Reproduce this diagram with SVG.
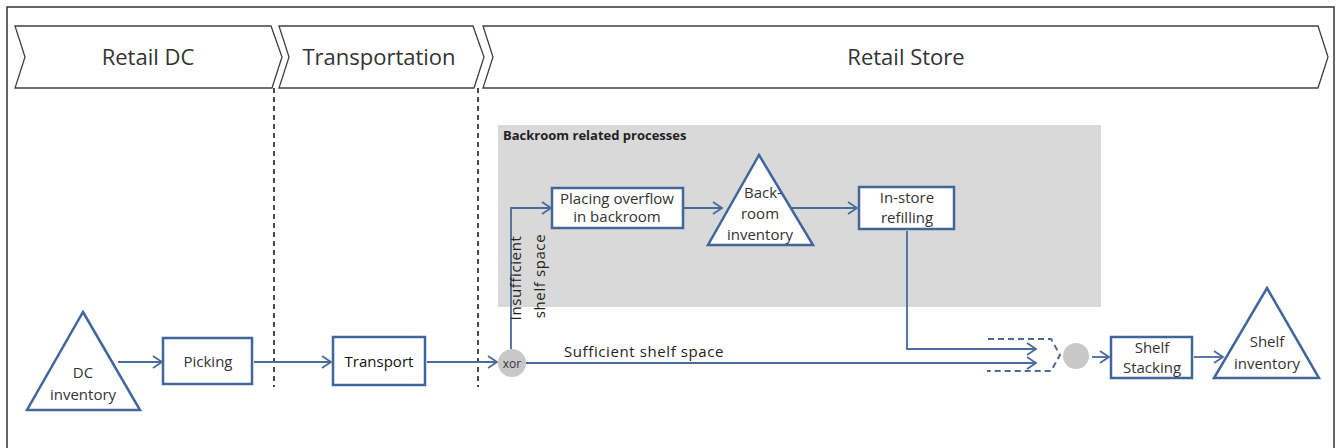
<svg xmlns="http://www.w3.org/2000/svg" width="1340" height="448" viewBox="0 0 1340 448">
<defs>
<marker id="arr" markerUnits="userSpaceOnUse" markerWidth="14" markerHeight="14" refX="11" refY="7" orient="auto">
<path d="M2,1 L11,7 L2,13" fill="none" stroke="#4a6a9b" stroke-width="1.8"/>
</marker>
<style>
.chev{fill:#fff;stroke:#404040;stroke-width:1.3}
.phase{font-family:"Open Sans","Liberation Sans",sans-serif;font-size:22px;fill:#333;text-anchor:middle}
.box{fill:#fff;stroke:#41669b;stroke-width:2.5}
.tri{fill:#fff;stroke:#41669b;stroke-width:2.5;stroke-linejoin:miter}
.lbl{font-family:"Open Sans","Liberation Sans",sans-serif;font-size:15px;fill:#333;text-anchor:middle}
.con{fill:none;stroke:#4a6a9b;stroke-width:1.8}
.sep{stroke:#000;stroke-width:1.4;stroke-dasharray:5,4}
.gate{fill:#c8c8c8}
.cl{font-family:"Open Sans","Liberation Sans",sans-serif;font-size:15px;fill:#222;letter-spacing:0.6px}
</style>
</defs>
<rect x="7" y="7" width="1327" height="445" fill="#fff" stroke="#333" stroke-width="1.5"/>

<g id="phase-retail-dc">
<path class="chev" d="M15,26 L271,26 L282,57 L272,88 L15,88 L25,57 Z"/>
<text class="phase" x="148" y="65">Retail DC</text>
</g>
<g id="phase-transportation">
<path class="chev" d="M279,26 L473,26 L484,57 L474,88 L279,88 L289,57 Z"/>
<text class="phase" x="379" y="65">Transportation</text>
</g>
<g id="phase-retail-store">
<path class="chev" d="M483,26 L1318,26 L1328,57 L1318,88 L483,88 L493,57 Z"/>
<text class="phase" x="906" y="65">Retail Store</text>
</g>

<g id="separators">
<line class="sep" x1="274" y1="88" x2="274" y2="387"/>
<line class="sep" x1="478" y1="88" x2="478" y2="387"/>
</g>

<g id="backroom-area">
<rect x="498" y="125" width="603" height="182" fill="#d9d9d9"/>
<text x="503" y="140" font-family="Open Sans, Liberation Sans, sans-serif" font-size="13" font-weight="bold" fill="#222">Backroom related processes</text>
</g>

<g id="connectors">
<line class="con" x1="118" y1="362" x2="162" y2="362" marker-end="url(#arr)"/>
<line class="con" x1="254" y1="362" x2="331" y2="362" marker-end="url(#arr)"/>
<line class="con" x1="427" y1="362" x2="497" y2="362" marker-end="url(#arr)"/>
<polyline class="con" points="511,349 511,208 551,208" marker-end="url(#arr)"/>
<line class="con" x1="684" y1="208" x2="722" y2="208" marker-end="url(#arr)"/>
<line class="con" x1="791" y1="208" x2="857" y2="208" marker-end="url(#arr)"/>
<polyline class="con" points="907,231 907,349 1036,349" marker-end="url(#arr)"/>
<line class="con" x1="526" y1="363" x2="1036" y2="363" marker-end="url(#arr)"/>
<path d="M988,339 L1051,339 L1060,355 L1051,371 L987,371" fill="none" stroke="#4a6a9b" stroke-width="2" stroke-dasharray="6,4"/>
<line class="con" x1="1092" y1="357" x2="1109" y2="357" marker-end="url(#arr)"/>
<line class="con" x1="1194" y1="357" x2="1223" y2="357" marker-end="url(#arr)"/>
<text class="cl" x="564" y="357">Sufficient shelf space</text>
<text class="cl" transform="translate(521,278) rotate(-90)" text-anchor="middle">Insufficient</text>
<text class="cl" transform="translate(545,276) rotate(-90)" text-anchor="middle">shelf space</text>
</g>

<g id="dc-inventory">
<path class="tri" d="M83,312 L140,410 L27,410 Z"/>
<text class="lbl" x="83" y="378">DC</text>
<text class="lbl" x="83" y="400">inventory</text>
</g>
<g id="picking">
<rect class="box" x="163" y="338" width="89" height="46"/>
<text class="lbl" x="208" y="367">Picking</text>
</g>
<g id="transport">
<rect class="box" x="333" y="337" width="92" height="48"/>
<text class="lbl" x="379" y="367" style="fill:#111">Transport</text>
</g>
<g id="xor">
<circle class="gate" cx="512" cy="363" r="14"/>
<text class="lbl" x="512" y="368" font-size="12" style="font-size:12px">xor</text>
</g>
<g id="placing-overflow">
<rect class="box" x="552" y="188" width="131" height="40"/>
<text class="lbl" x="617" y="204">Placing overflow</text>
<text class="lbl" x="617" y="222">in backroom</text>
</g>
<g id="backroom-inventory">
<path class="tri" d="M759,155 L813,245 L708,245 Z"/>
<text class="lbl" x="763" y="198">Back-</text>
<text class="lbl" x="760" y="219">room</text>
<text class="lbl" x="760" y="240">inventory</text>
</g>
<g id="in-store-refilling">
<rect class="box" x="859" y="187" width="95" height="42"/>
<text class="lbl" x="907" y="203">In-store</text>
<text class="lbl" x="907" y="223">refilling</text>
</g>
<g id="merge">
<circle class="gate" cx="1076" cy="356" r="13"/>
</g>
<g id="shelf-stacking">
<rect class="box" x="1111" y="337" width="81" height="41"/>
<text class="lbl" x="1152" y="353">Shelf</text>
<text class="lbl" x="1152" y="373">Stacking</text>
</g>
<g id="shelf-inventory">
<path class="tri" d="M1267,288 L1319,378 L1214,378 Z"/>
<text class="lbl" x="1267" y="347">Shelf</text>
<text class="lbl" x="1267" y="369">inventory</text>
</g>
</svg>
